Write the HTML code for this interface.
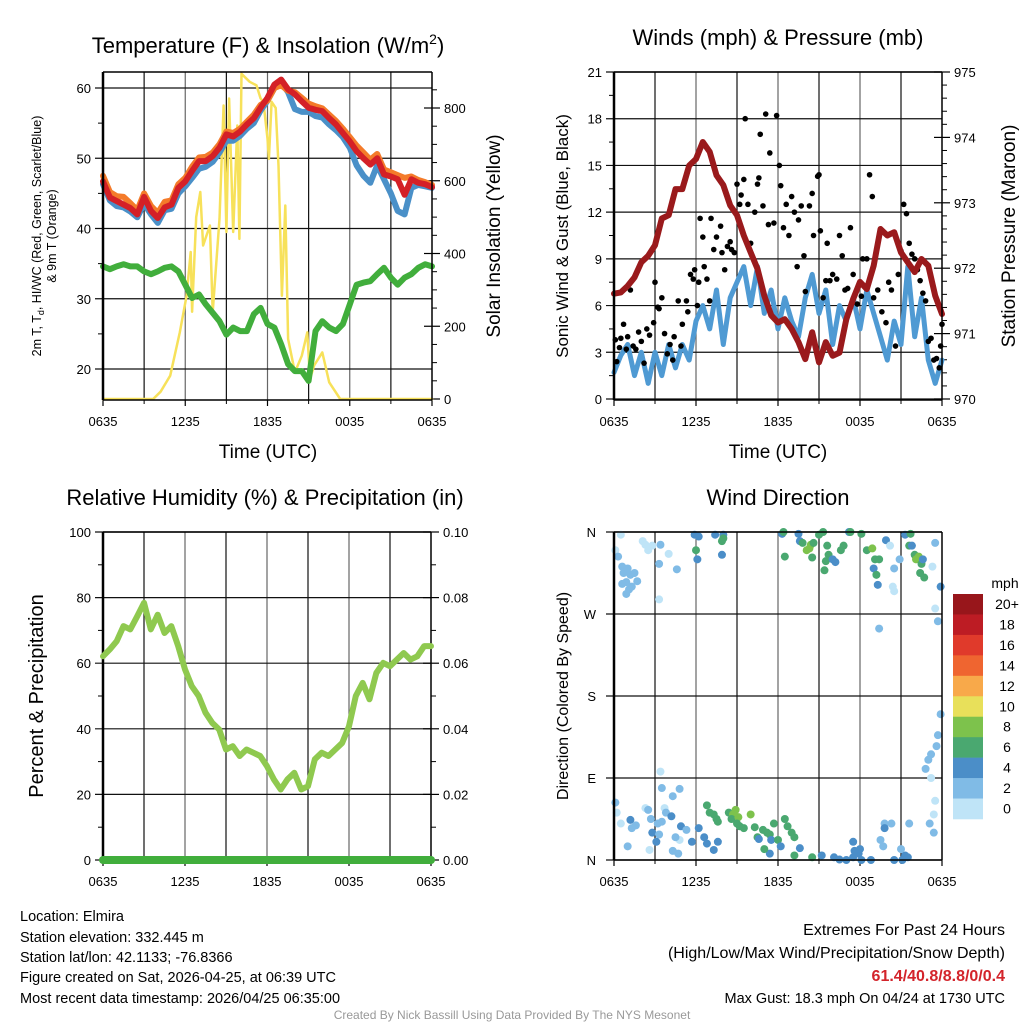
<!DOCTYPE html>
<html><head><meta charset="utf-8"><style>
html,body{margin:0;padding:0;background:#fff;}
svg{display:block;font-family:"Liberation Sans",sans-serif;}
</style></head><body>
<svg id="c" width="1024" height="1024" viewBox="0 0 1024 1024" xmlns="http://www.w3.org/2000/svg">
<g id="texts" fill="#000">
<text x="268" y="53" font-size="22" text-anchor="middle">Temperature (F) &amp; Insolation (W/m<tspan dy="-9" font-size="14">2</tspan><tspan dy="9">)</tspan></text>
<text x="778" y="45" font-size="22" text-anchor="middle">Winds (mph) &amp; Pressure (mb)</text>
<text x="265" y="505" font-size="22" text-anchor="middle">Relative Humidity (%) &amp; Precipitation (in)</text>
<text x="778" y="505" font-size="22" text-anchor="middle">Wind Direction</text>
<text x="268" y="458" font-size="19" text-anchor="middle">Time (UTC)</text>
<text x="778" y="458" font-size="19" text-anchor="middle">Time (UTC)</text>
<text transform="translate(41,236) rotate(-90)" font-size="12.5" text-anchor="middle">2m T, T<tspan font-size="9" dy="3">d</tspan><tspan dy="-3">, HI/WC (Red, Green, Scarlet/Blue)</tspan></text>
<text transform="translate(56,236) rotate(-90)" font-size="12.5" text-anchor="middle">&amp; 9m T (Orange)</text>
<text transform="translate(500,236) rotate(-90)" font-size="19" text-anchor="middle">Solar Insolation (Yellow)</text>
<text transform="translate(568,236) rotate(-90)" font-size="17" text-anchor="middle">Sonic Wind &amp; Gust (Blue, Black)</text>
<text transform="translate(1015,236) rotate(-90)" font-size="19" text-anchor="middle">Station Pressure (Maroon)</text>
<text transform="translate(43,696) rotate(-90)" font-size="20" text-anchor="middle">Percent &amp; Precipitation</text>
<text transform="translate(568,696) rotate(-90)" font-size="16" text-anchor="middle">Direction (Colored By Speed)</text>
<text x="1005" y="588" font-size="14" text-anchor="middle">mph</text>
<g font-size="14.5">
<text x="20" y="921">Location: Elmira</text>
<text x="20" y="942">Station elevation: 332.445 m</text>
<text x="20" y="962">Station lat/lon: 42.1133; -76.8366</text>
<text x="20" y="982">Figure created on Sat, 2026-04-25, at 06:39 UTC</text>
<text x="20" y="1003">Most recent data timestamp: 2026/04/25 06:35:00</text>
</g>
<g text-anchor="end">
<text x="1005" y="935" font-size="16">Extremes For Past 24 Hours</text>
<text x="1005" y="958" font-size="16">(High/Low/Max Wind/Precipitation/Snow Depth)</text>
<text x="1005" y="981" font-size="16" font-weight="bold" fill="#d3242b">61.4/40.8/8.8/0/0.4</text>
<text x="1005" y="1003" font-size="14.5">Max Gust: 18.3 mph On 04/24 at 1730 UTC</text>
</g>
<text x="512" y="1019" font-size="12" fill="#999" text-anchor="middle">Created By Nick Bassill Using Data Provided By The NYS Mesonet</text>
</g>
</svg>
<script>
// ---------- data ----------
const hours = [0,0.5,1,1.5,2,2.5,3,3.5,4,4.5,5,5.5,6,6.5,7,7.5,8,8.5,9,9.5,10,10.5,11,11.5,12,12.5,13,13.5,14,14.5,15,15.5,16,16.5,17,17.5,18,18.5,19,19.5,20,20.5,21,21.5,22,22.5,23,23.5,24];
const timeTicks = ["0635","1235","1835","0035","0635"];
const tempRed = [46.7,44.4,43.9,43.4,42.9,42,44.5,42.5,41.5,43,43.4,45.8,46.7,48.2,49.6,49.6,50.3,51.5,53.4,53.1,53.8,54.8,55.7,57.2,58.6,60.5,61.2,59.8,59.1,58.1,57.2,56.9,56.7,55.7,54.8,53.6,52.4,51,50,49.1,50,47.7,47.4,47,44.8,47,46.5,46.3,45.9];
const tempOrange = [47.5,45.2,44.6,44.5,43.6,42.6,45,43.2,42.2,43.8,44,46.3,47.2,48.8,50.1,50.2,50.8,52,53.8,53.6,54.2,55.2,56.2,57.6,58.2,60,60.4,59.6,59.4,58.6,57.8,57.4,57.1,56.2,55.3,54.2,53,51.8,50.8,49.8,50.6,48.4,48,47.6,47.2,47.4,46.9,46.6,46.2];
const tempBlue = [46.3,44,43.2,43,42.4,41.6,43.5,42,40.8,42.6,42.8,45,46,47.2,48.5,48.8,49.5,50.8,52.5,52.5,53.2,54.2,55,56.8,58.2,60,60.8,59.4,57,56.6,56.6,56,55.8,54.8,54,53,51.5,49,47.5,46.5,49,47,45,42.5,42,45.8,46.2,46,45.8];
const tempDew = [34.6,34.2,34.6,34.9,34.6,34.6,33.9,33.5,33.9,34.4,34.6,33.9,32,30.1,30.6,29.2,28,26.8,24.9,25.9,25.4,25.4,27.8,28.7,26.4,25.9,23.5,20.7,19.7,19.7,18.3,25.4,26.8,25.9,25.4,26.4,29.2,32,32.3,32.5,33.5,34.4,33,32,33,33.5,34.4,34.9,34.6];
const solarHours = [0,3.66,4.2,4.9,5.6,6.1,6.4,6.5,6.8,7.1,7.3,7.8,8.0,8.5,8.8,9.0,9.2,9.5,9.8,9.95,10.1,10.7,11.2,11.5,11.7,12,12.1,12.3,12.6,12.8,13.05,13.3,13.5,14.0,14.5,14.9,15.1,15.4,16,16.5,17.3,24];
const solarVals = [0,0,20,64,183,284,404,240,500,569,422,477,239,495,807,459,826,459,752,440,894,872,862,826,817,716,660,817,800,642,284,532,165,73,119,183,55,92,128,46,0,0];
const windSonic = [1.7,2.8,3.5,1.5,3.0,1.0,3.0,1.5,3.5,2.0,3.5,2.5,5.0,6.0,4.5,7.0,3.5,6.5,7.5,8.5,6.0,8.5,5.5,7.0,4.5,6.5,5.0,4.0,6.5,8.0,5.5,7.0,3.5,6.0,5.0,6.5,4.5,7.0,5.5,4.0,2.5,5.0,3.5,8.5,4.0,6.5,2.5,1.0,2.5];
const pressure = [971.61,971.63,971.73,971.86,972.09,972.19,972.35,972.76,972.81,973.21,973.21,973.57,973.67,973.93,973.78,973.42,973.27,972.96,972.81,972.5,972.24,971.99,971.58,971.28,971.17,971.22,971.07,970.87,970.61,971.02,970.56,970.87,970.66,970.71,971.22,971.53,971.79,971.68,972.04,972.6,972.5,972.55,972.24,972.09,971.94,972.14,972.04,971.58,971.3];
const gustHours = [0.1,0.2,0.4,0.5,0.7,0.9,1.0,1.2,1.4,1.6,1.8,2.0,2.2,2.4,2.6,2.9,3.0,3.2,3.3,3.5,3.7,3.9,4.1,4.3,4.4,4.7,4.9,5.0,5.3,5.4,5.6,5.8,5.9,6.1,6.2,6.3,6.5,6.6,6.8,7.0,7.1,7.3,7.5,7.8,7.9,8.1,8.3,8.5,8.6,8.8,9.0,9.2,9.3,9.5,9.6,9.8,10.0,10.3,10.5,10.6,10.7,10.9,11.1,11.3,11.4,11.7,11.9,12.1,12.2,12.4,12.6,12.8,13.0,13.2,13.4,13.5,13.7,13.9,14.0,14.3,14.5,14.6,14.9,15.0,15.1,15.3,15.5,15.6,15.8,16.0,16.3,16.5,16.7,16.9,17.1,17.3,17.5,17.8,18.1,18.2,18.5,18.7,18.9,19.0,19.3,19.6,19.9,20.1,20.3,20.6,20.8,21.0,21.2,21.4,21.6,21.8,22.0,22.2,22.4,22.6,22.8,23.0,23.2,23.4,23.6,23.8,23.9,24.0];
const gustVals = [3.8,2.4,3.3,3.9,4.8,3.2,4.0,7.0,3.4,3.2,4.3,3.7,2.3,4.5,4.1,4.9,7.5,5.9,5.8,6.5,4.2,2.9,3.5,2.5,4.0,6.3,3.4,4.8,6.3,5.6,8.0,7.7,8.3,6.0,7.5,11.6,10.4,8.5,7.7,6.3,11.6,9.6,10.4,11.1,9.4,8.3,9.8,10.1,9.6,9.4,13.8,12.5,13.1,14.1,18.0,12.5,10.0,12.0,13.8,14.2,17.0,12.4,18.3,11.2,15.8,11.3,18.2,15.0,13.7,11.0,12.5,10.5,13.0,12.0,8.5,11.5,12.4,9.2,6.9,12.4,13.2,10.5,14.3,14.4,10.8,6.5,7.6,10.0,7.6,8.0,7.7,10.5,9.2,7.0,7.1,11.0,8.0,6.1,6.6,9.0,9.0,14.4,13.0,6.5,7.0,5.6,4.9,7.5,7.0,3.4,8.0,9.5,12.5,11.9,10.0,9.3,9.0,8.3,7.6,6.8,6.3,3.7,3.9,2.5,2.6,2.0,3.4,4.8];
const rh = [62.1,64.2,66.7,71.3,70.3,74.3,78.4,70.3,74.8,69.2,71.3,65.2,58.1,53,50,44.9,41.8,39.8,33.7,34.7,31.7,33.7,32.7,31.7,28.6,24.6,21.5,24.6,26.6,21.5,22.5,30.7,32.7,31.7,33.7,35.7,40.8,50,54,49,57,60.1,59.1,61.1,63.1,61.1,62.1,65.2,65.2];
const precip = [0,0,0,0,0,0,0,0,0,0,0,0,0,0,0,0,0,0,0,0,0,0,0,0,0,0,0,0,0,0,0,0,0,0,0,0,0,0,0,0,0,0,0,0,0,0,0,0,0];
const dirHours = [0.5,0.1,0.3,0.7,0.6,1.0,1.2,1.5,1.3,1.7,0.9,0.6,0.9,1.1,2.1,2.3,2.8,2.5,3.4,4.0,3.3,4.6,3.3,5.9,6.2,6.0,6.1,7.4,8.0,7.9,8.0,7.9,12.3,12.4,12.5,13.5,13.6,13.8,14.1,14.3,14.4,14.6,14.5,15.0,15.3,15.6,15.7,15.5,15.4,16.0,16.2,16.6,16.8,17.2,17.3,18.1,18.5,18.9,19.1,19.4,19.0,19.2,19.3,19.9,20.2,20.5,20.4,20.5,20.9,21.3,21.6,21.8,21.7,22.0,22.1,22.3,22.5,22.4,22.6,22.7,23.3,23.5,23.9,23.5,23.7,19.4,
23.7,23.9,23.6,23.2,23.0,22.8,23.2,23.4,23.1,23.4,23.5,3.4,3.5,4.8,4.3,0.1,0.2,1.2,1.3,0.5,1.6,2.3,2.5,2.7,3.2,3.7,3.8,3.5,2.8,3.3,3.1,4.2,4.9,5.3,4.8,4.5,1.0,2.6,4.3,4.7,5.7,6.2,6.6,6.8,7.3,7.6,6.8,7.0,7.3,7.5,7.6,8.4,8.7,8.6,8.9,9.1,9.0,9.2,9.5,10.0,10.3,10.5,10.6,10.9,11.2,11.4,11.5,11.4,11.0,11.7,12.0,12.2,12.5,12.7,13.0,13.2,13.6,13.2,15.2,14.5,16.1,16.5,17.0,17.5,17.9,17.6,17.5,18.0,18.1,18.8,19.5,19.7,19.8,20.3,19.8,20.5,21.1,21.3,21.5,21.0,21.6];
const dirDeg = [357,340,333,315,322,320,313,315,300,306,305,303,292,297,350,346,345,340,346,336,325,319,286,357,355,340,330,357,357,350,353,335,358,360,333,358,350,348,340,342,346,348,332,357,360,345,335,328,318,330,327,340,345,360,360,358,340,342,330,330,320,313,302,351,345,320,300,295,330,357,345,345,358,335,330,333,325,315,330,310,322,348,300,276,262,254,
137,160,125,116,110,100,90,50,40,30,65,97,79,78,70,63,52,44,35,40,38,57,55,45,40,57,52,42,30,28,20,48,37,33,22,25,15,11,10,7,20,35,25,18,11,20,60,52,50,45,42,52,50,45,55,47,40,37,35,50,36,25,23,33,30,28,22,7,12,40,22,15,45,37,30,25,13,5,5,3,3,0.5,0,3,7,10,20,12,0,0,22,15,40,40,35,0,0,5,3,12,40];
const dirSpeed = [1,1.5,3,3,3,3,3,3,3,3,3,3,3,3,1.5,1.5,1.5,1.5,3,1.5,3,3,1.5,5,5,7,5,5,5,7,7,5,5,7,7,5,5,7,9,9,9,7,7,7,7,7,7,7,7,5,5,7,7,5,7,7,7,9,7,7,5,7,5,5,1.5,3,1.5,1.5,3,5,7,5,7,7,9,9,7,7,5,7,1,3,5,1,3,3,
3,3,3,3,3,3,1,1,3,3,1.5,1.5,3,3,3,3,1.5,5,3,1.5,3,1.5,3,3,3,1.5,3,3,5,3,5,5,5,3,1.5,3,3,1.5,3,3,5,5,5,5,5,5,7,7,7,7,7,7,9,7,9,9,7,7,7,9,7,7,5,7,7,7,5,5,7,7,7,5,7,7,7,7,5,7,5,7,5,5,5,5,5,5,5,5,5,5,3,3,3,3,5,5,5,5,5,3,3];
const cbLabels = ["20+","18","16","14","12","10","8","6","4","2","0"];
const cbColors = ["#98161b","#bd1c24","#e03a2b","#ef6530","#f8a94a","#e8e05a","#7dc24c","#4aa870","#4b8ec8","#80bbe6","#bfe4f7"];

// ---------- helpers ----------
const NS="http://www.w3.org/2000/svg";
const svg=document.getElementById('c');
function mk(tag,attrs,parent){const e=document.createElementNS(NS,tag);for(const k in attrs)e.setAttribute(k,attrs[k]);(parent||svg).appendChild(e);return e;}
function txt(x,y,s,size,anchor,parent){const t=mk('text',{x:x,y:y,'font-size':size,'text-anchor':anchor||'middle'},parent);t.textContent=s;return t;}
function lin(d0,d1,r0,r1){return v=>r0+(v-d0)*(r1-r0)/(d1-d0);}
function poly(xs,ys,fx,fy,stroke,w,name,parent){
  const pts=xs.map((h,i)=>fx(h).toFixed(1)+','+fy(ys[i]).toFixed(1)).join(' ');
  const p=mk('polyline',{points:pts,fill:'none',stroke:stroke,'stroke-width':w,'stroke-linejoin':'round','stroke-linecap':'round'},parent);
  
  
  return p;
}
function frame(x0,x1,y0,y1,name){
  const g=mk('g',{});
  
  
  const fx=lin(0,24,x0,x1);
  for(let h=3;h<24;h+=3){mk('line',{x1:fx(h),x2:fx(h),y1:y0,y2:y1,stroke:(h%6==0)?'#666':'#111','stroke-width':1.2},g);}
  for(let i=0;i<5;i++){const x=fx(i*6);mk('line',{x1:x,x2:x,y1:y1,y2:y1+6,stroke:'#000','stroke-width':1.2},g);txt(x,y1+26,timeTicks[i],13,'middle',g);}
  for(let h=3;h<24;h+=6){mk('line',{x1:fx(h),x2:fx(h),y1:y1,y2:y1+4,stroke:'#000'},g);}
  return {g,fx};
}
function border(x0,x1,y0,y1,g){
  mk('line',{x1:x0,x2:x0,y1:y0,y2:y1,stroke:'#000','stroke-width':2.5},g);
  mk('line',{x1:x1,x2:x1,y1:y0,y2:y1,stroke:'#000','stroke-width':1.5},g);
  mk('line',{x1:x0,x2:x1,y1:y0,y2:y0,stroke:'#000','stroke-width':1.5},g);
  mk('line',{x1:x0,x2:x1,y1:y1,y2:y1,stroke:'#000','stroke-width':1.5},g);
}
function leftAxis(g,x0,x1,fy,vals,minor,labelFn){
  vals.forEach(v=>{const y=fy(v);mk('line',{x1:x0-8,x2:x1,y1:y,y2:y,stroke:'#111','stroke-width':1.2},g);txt(x0-12,y+5,labelFn(v),13,'end',g);});
  minor.forEach(v=>{const y=fy(v);mk('line',{x1:x0-5,x2:x0,y1:y,y2:y,stroke:'#000'},g);});
}
function rightAxis(g,x1,fy,vals,minor,labelFn){
  vals.forEach(v=>{const y=fy(v);mk('line',{x1:x1-8,x2:x1+8,y1:y,y2:y,stroke:'#000','stroke-width':1.2},g);txt(x1+12,y+5,labelFn(v),13,'start',g);});
  minor.forEach(v=>{const y=fy(v);mk('line',{x1:x1,x2:x1+5,y1:y,y2:y,stroke:'#000'},g);});
}

// ---------- Panel 1: temperature ----------
(function(){
  const x0=103,x1=432,y0=72,y1=400;
  const {g,fx}=frame(x0,x1,y0,y1,'temperature-panel');
  const fy=lin(60,20,88,369);
  const fs=lin(0,800,399,108);
  leftAxis(g,x0,x1,fy,[20,30,40,50,60],[25,35,45,55],v=>String(v));
  rightAxis(g,x1,fs,[0,200,400,600,800],[50,100,150,250,300,350,450,500,550,650,700,750,850],v=>String(v));
  poly(solarHours,solarVals,fx,fs,'#f7e15a',2.5,'solar-insolation-line',g);
  poly(hours,tempDew,fx,fy,'#41ae3c',6,'dewpoint-line',g);
  poly(hours,tempBlue,fx,fy,'#4a90c8',6,'heat-index-windchill-line',g);
  poly(hours,tempOrange,fx,fy,'#f47b2a',6,'temp-9m-line',g);
  poly(hours,tempRed,fx,fy,'#d42027',6,'temp-2m-line',g);
  border(x0,x1,y0,y1,g);
})();

// ---------- Panel 2: winds ----------
(function(){
  const x0=614,x1=942,y0=72,y1=400;
  const {g,fx}=frame(x0,x1,y0,y1,'winds-panel');
  const fy=lin(0,21,399,72);
  const fp=lin(970,975,399,72);
  leftAxis(g,x0,x1,fy,[0,3,6,9,12,15,18,21],[1.5,4.5,7.5,10.5,13.5,16.5,19.5],v=>String(v));
  const pm=[];for(let p=970.2;p<975;p+=0.2){if(Math.abs(p-Math.round(p))>0.05)pm.push(p);}
  rightAxis(g,x1,fp,[970,971,972,973,974,975],pm,v=>String(v));
  poly(hours,windSonic,fx,fy,'#4f9ad3',5,'sonic-wind-line',g);
  gustHours.forEach((h,i)=>{
    const c=mk('circle',{cx:fx(h),cy:fy(gustVals[i]),r:2.8,fill:'#000'},g);
    
    
  });
  poly(hours,pressure,fx,fp,'#9a1a1c',6,'pressure-line',g);
  border(x0,x1,y0,y1,g);
})();

// ---------- Panel 3: RH ----------
(function(){
  const x0=103,x1=431,y0=532,y1=860;
  const {g,fx}=frame(x0,x1,y0,y1,'humidity-panel');
  const fy=lin(0,100,860,532);
  const fr=lin(0,0.1,860,532);
  leftAxis(g,x0,x1,fy,[0,20,40,60,80,100],[10,30,50,70,90],v=>String(v));
  rightAxis(g,x1,fr,[0,0.02,0.04,0.06,0.08,0.1],[0.01,0.03,0.05,0.07,0.09],v=>v.toFixed(2));
  border(x0,x1,y0,y1,g);
  poly(hours,rh,fx,fy,'#8fc94f',6,'relative-humidity-line',g);
  poly(hours,precip,fx,fr,'#41ae3c',8,'precipitation-line',g);
})();

// ---------- Panel 4: direction ----------
(function(){
  const x0=614,x1=942,y0=532,y1=860;
  const {g,fx}=frame(x0,x1,y0,y1,'direction-panel');
  const fy=lin(0,360,860,532);
  const dl=['N','E','S','W','N'];
  [0,90,180,270,360].forEach((d,i)=>{const y=fy(d);mk('line',{x1:x0-8,x2:x1,y1:y,y2:y,stroke:'#111','stroke-width':1.2},g);txt(x0-18,y+5,dl[i],13,'end',g);});
  function col(s){const idx=Math.min(10,Math.floor(s/2));return cbColors[10-idx];}
  dirHours.forEach((h,i)=>{
    const c=mk('circle',{cx:fx(h),cy:fy(dirDeg[i]),r:4,fill:col(dirSpeed[i])},g);
    
    
  });
  border(x0,x1,y0,y1,g);
  const cb=mk('g',{});
  
  
  const segH=225/11;
  cbColors.forEach((c,i)=>{
    const r=mk('rect',{x:953,y:594+i*segH,width:30,height:segH+0.3,fill:c},cb);
    
    
    txt(1007,594+i*segH+15,cbLabels[i],14,'middle',cb);
  });
})();
</script>
</body></html>
